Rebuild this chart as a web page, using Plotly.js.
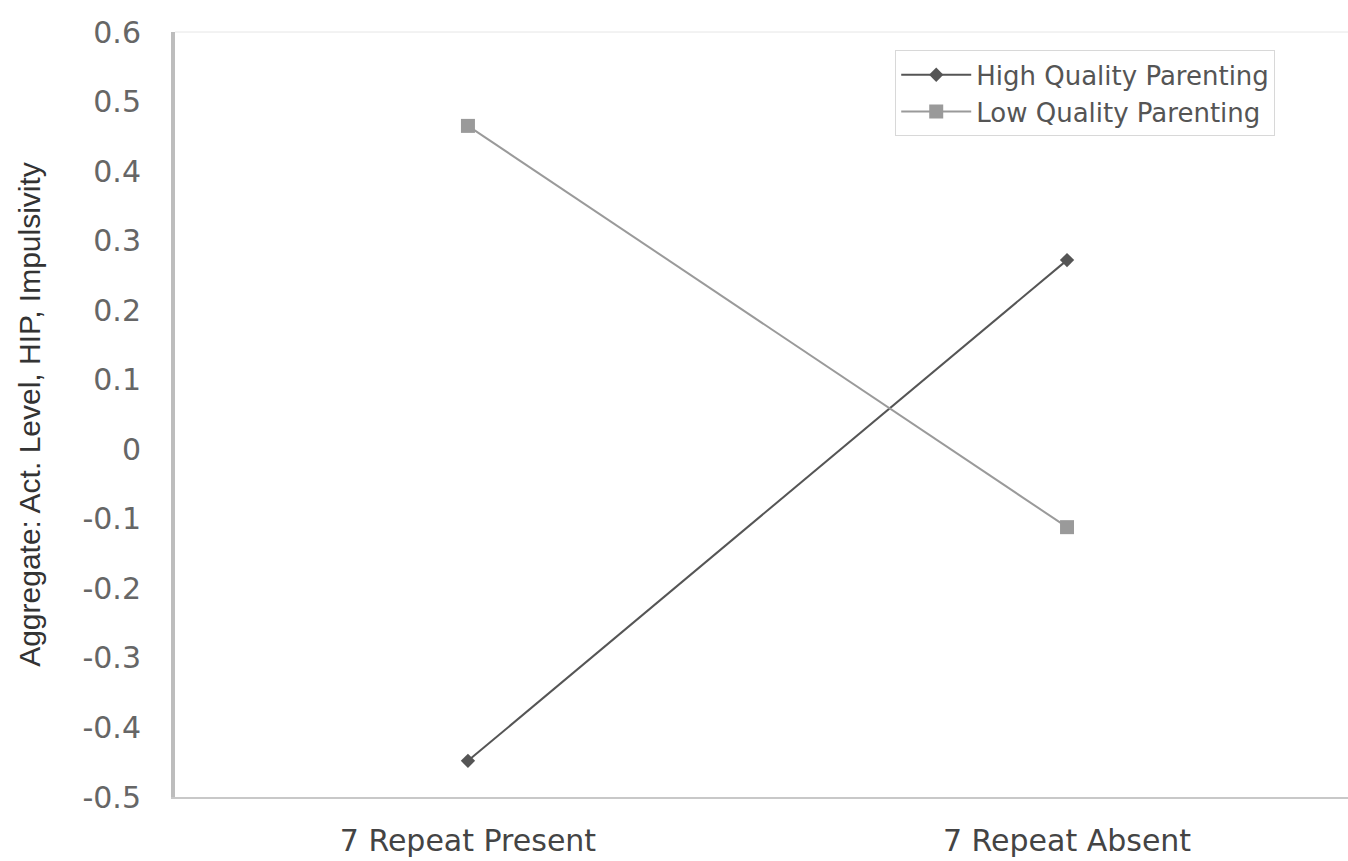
<!DOCTYPE html>
<html><head><meta charset="utf-8">
<script src="https://cdn.plot.ly/plotly-3.0.1.min.js"></script>
<style>html,body{margin:0;padding:0;background:#fff}#chart{width:1348px;height:861px}</style>
</head><body><div id="chart"></div>
<script>
const categories = ["7 Repeat Present", "7 Repeat Absent"];
const highQuality = [-0.448, 0.272];
const lowQuality = [0.465, -0.112];
const yTickVals = [-0.5, -0.4, -0.3, -0.2, -0.1, 0, 0.1, 0.2, 0.3, 0.4, 0.5, 0.6];
const yTickText = ["-0.5", "-0.4", "-0.3", "-0.2", "-0.1", "0", "0.1", "0.2", "0.3", "0.4", "0.5", "0.6"];

const traces = [
  {x: categories, y: highQuality, name: "High Quality Parenting", type: "scatter", mode: "lines+markers",
   line: {color: "#555555", width: 2}, marker: {symbol: "diamond", size: 11, color: "#555555"}},
  {x: categories, y: lowQuality, name: "Low Quality Parenting", type: "scatter", mode: "lines+markers",
   line: {color: "#9a9a9a", width: 2}, marker: {symbol: "square", size: 14, color: "#9a9a9a"}}
];

const layout = {
  width: 1348, height: 861,
  margin: {l: 175, r: 0, t: 32, b: 64},
  paper_bgcolor: "#fff", plot_bgcolor: "#fff",
  font: {family: "Liberation Sans, Arial, sans-serif", color: "#555"},
  showlegend: true,
  legend: {x: 0.614, y: 0.976, xanchor: "left", yanchor: "top", bordercolor: "#d8d8d8", borderwidth: 1,
    bgcolor: "#fff", font: {family: "DejaVu Sans, sans-serif", size: 26, color: "#555"}, tracegroupgap: 0,
    itemwidth: 70},
  xaxis: {type: "category", range: [-0.489, 1.469], showgrid: false, zeroline: false,
    showline: true, linecolor: "#c8c8c8", linewidth: 2, mirror: false, ticks: "",
    tickfont: {family: "DejaVu Sans, sans-serif", size: 30, color: "#444"}, ticklabelstandoff: 16},
  yaxis: {range: [-0.5, 0.6], tickvals: yTickVals, ticktext: yTickText, showgrid: false, zeroline: false,
    showline: true, linecolor: "#bdbdbd", linewidth: 4, ticks: "",
    tickfont: {family: "DejaVu Sans, sans-serif", size: 30, color: "#666"}, ticklabelstandoff: 24,
    title: {text: "Aggregate: Act. Level, HIP, Impulsivity", standoff: 34,
      font: {family: "Liberation Sans, Arial, sans-serif", size: 30, color: "#333"}}},
  shapes: [
    {type: "line", xref: "paper", yref: "paper", x0: 0, x1: 1, y0: 1, y1: 1, line: {color: "#e6e6e6", width: 1}}
  ]
};
Plotly.newPlot("chart", traces, layout, {displayModeBar: false, staticPlot: true});
</script></body></html>
